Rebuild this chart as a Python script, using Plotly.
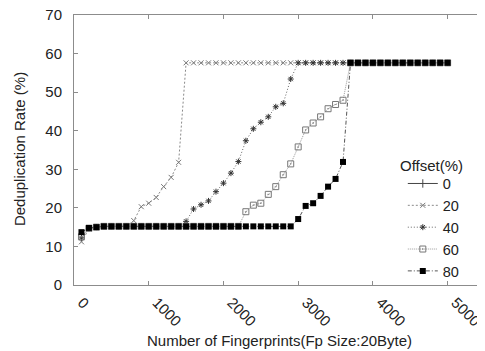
import plotly.graph_objects as go

fingerprints = [100, 200, 300, 400, 500, 600, 700, 800, 900, 1000,
                1100, 1200, 1300, 1400, 1500, 1600, 1700, 1800, 1900, 2000,
                2100, 2200, 2300, 2400, 2500, 2600, 2700, 2800, 2900, 3000,
                3100, 3200, 3300, 3400, 3500, 3600, 3700, 3800, 3900, 4000,
                4100, 4200, 4300, 4400, 4500, 4600, 4700, 4800, 4900, 5000]

offset_0 = [None] * 50

offset_20 = [11.2, 14.5, 15.0, 15.2, 15.2, 15.2, 15.2, 16.7, 20.3, 21.2,
             22.7, 25.5, 27.9, 31.8, 57.6, 57.6, 57.6, 57.6, 57.6, 57.6,
             57.6, 57.6, 57.6, 57.6, 57.6, 57.6, 57.6, 57.6, 57.6, 57.6,
             57.6, 57.6, 57.6, 57.6, 57.6, 57.6, 57.6, 57.6, 57.6, 57.6,
             57.6, 57.6, 57.6, 57.6, 57.6, 57.6, 57.6, 57.6, 57.6, 57.6]

offset_40 = [12.2, 14.6, 15.0, 15.2, 15.2, 15.2, 15.2, 15.2, 15.2, 15.2,
             15.2, 15.2, 15.2, 15.2, 16.5, 19.7, 20.8, 21.8, 24.2, 26.4,
             29.0, 32.0, 37.4, 40.5, 42.2, 43.6, 46.2, 47.1, 53.4, 57.6,
             57.6, 57.6, 57.6, 57.6, 57.6, 57.6, 57.6, 57.6, 57.6, 57.6,
             57.6, 57.6, 57.6, 57.6, 57.6, 57.6, 57.6, 57.6, 57.6, 57.6]

offset_60 = [12.5, 14.7, 15.0, 15.2, 15.2, 15.2, 15.2, 15.2, 15.2, 15.2,
             15.2, 15.2, 15.2, 15.2, 15.2, 15.2, 15.2, 15.2, 15.2, 15.2,
             15.2, 15.2, 19.0, 20.7, 21.2, 23.5, 25.5, 28.6, 31.4, 35.8,
             40.2, 42.0, 43.6, 45.7, 46.8, 47.9, 57.6, 57.6, 57.6, 57.6,
             57.6, 57.6, 57.6, 57.6, 57.6, 57.6, 57.6, 57.6, 57.6, 57.6]

offset_80 = [13.7, 14.8, 15.0, 15.2, 15.2, 15.2, 15.2, 15.2, 15.2, 15.2,
             15.2, 15.2, 15.2, 15.2, 15.2, 15.2, 15.2, 15.2, 15.2, 15.2,
             15.2, 15.2, 15.2, 15.2, 15.2, 15.2, 15.2, 15.2, 15.2, 17.1,
             20.5, 21.2, 23.1, 25.5, 27.5, 31.9, 57.6, 57.6, 57.6, 57.6,
             57.6, 57.6, 57.6, 57.6, 57.6, 57.6, 57.6, 57.6, 57.6, 57.6]

series_names = ["0", "20", "40", "60", "80"]
x_ticks = [0, 1000, 2000, 3000, 4000, 5000]
y_ticks = [0, 10, 20, 30, 40, 50, 60, 70]

FONT = "Liberation Sans, Arial, sans-serif"
TXT = "#222222"

styles = [
    dict(line=dict(color="#444444", width=1, dash="solid"),
         marker=dict(symbol="line-ns-open", size=6, color="#444444", line=dict(width=1, color="#444444"))),
    dict(line=dict(color="#8a8a8a", width=1, dash="2px,2px"),
         marker=dict(symbol="x-thin-open", size=5, color="#777777", line=dict(width=1, color="#777777"))),
    dict(line=dict(color="#666666", width=1, dash="1px,2px"),
         marker=dict(symbol="asterisk-open", size=5, color="#333333", line=dict(width=1, color="#333333"))),
    dict(line=dict(color="#9a9a9a", width=1, dash="1px,1px"),
         marker=dict(symbol="square-open-dot", size=6, color="#777777", line=dict(width=1, color="#777777"))),
    dict(line=dict(color="#555555", width=1, dash="4px,2px,1px,2px"),
         marker=dict(symbol="square", size=6, color="#000000", line=dict(width=0))),
]

fig = go.Figure()
for name, ys, st in zip(series_names, [offset_0, offset_20, offset_40, offset_60, offset_80], styles):
    fig.add_trace(go.Scatter(x=fingerprints, y=ys, mode="lines+markers", name=name,
                             line=st["line"], marker=st["marker"], cliponaxis=False))

axis_common = dict(showline=True, linecolor="#8c8c8c", linewidth=1, mirror="allticks",
                   ticks="inside", ticklen=4, tickcolor="#8c8c8c", showgrid=False, zeroline=False,
                   automargin=False, ticklabeloverflow="allow",
                   tickfont=dict(family=FONT, size=15, color=TXT))

# The page body has an 8px margin; the figure is sized so that it fills the 485x351 window.
fig.update_layout(
    width=477, height=343,
    margin=dict(l=66, r=0, t=7, b=66),
    paper_bgcolor="white", plot_bgcolor="white",
    font=dict(family=FONT, size=15, color=TXT),
    xaxis=dict(range=[0, 5500], tickvals=x_ticks, tickangle=45,
               ticklabelshift=8, ticklabelstandoff=2, **axis_common),
    yaxis=dict(range=[0, 70], tickvals=y_ticks, ticklabelstandoff=8, **axis_common),
    legend=dict(x=0.80, y=0.435, xanchor="left", yanchor="top", bgcolor="rgba(0,0,0,0)",
                font=dict(size=14.5), tracegroupgap=0, itemwidth=30),
    showlegend=True,
    annotations=[
        dict(text="Number of Fingerprints(Fp Size:20Byte)", xref="paper", yref="paper",
             x=0.50, y=-0.204, xanchor="center", yanchor="middle", showarrow=False,
             font=dict(family=FONT, size=15, color=TXT)),
        dict(text="Deduplication Rate (%)", xref="paper", yref="paper",
             x=-0.131, y=0.504, xanchor="center", yanchor="middle", textangle=-90,
             showarrow=False, font=dict(family=FONT, size=15, color=TXT)),
        dict(text="Offset(%)", xref="paper", yref="paper",
             x=0.871, y=0.441, xanchor="center", yanchor="middle", showarrow=False,
             font=dict(family=FONT, size=15, color=TXT)),
    ],
)

fig.write_html("out.html")
